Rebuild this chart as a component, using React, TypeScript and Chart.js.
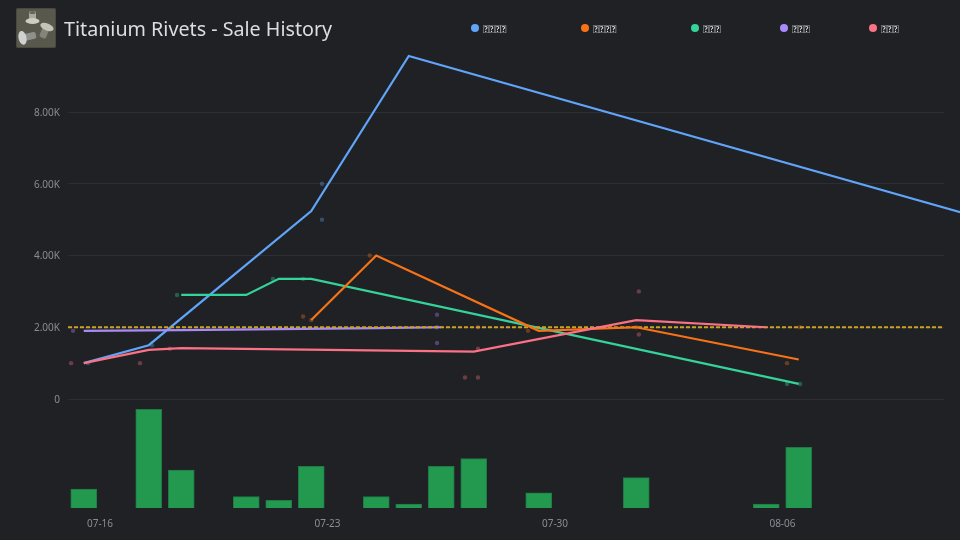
import { useEffect, useRef } from "react";
import { Chart, registerables } from "chart.js";
import type { ChartConfiguration } from "chart.js";

Chart.register(...registerables);

// days are counted from 07-16; the rolling lines sit on half days
const tickDays = [0, 7, 14, 21];
const tickLabels = ["07-16", "07-23", "07-30", "08-06"];
const yTicks = [0, 2000, 4000, 6000, 8000];

const volumeDays = [-0.5, 1.5, 2.5, 4.5, 5.5, 6.5, 8.5, 9.5, 10.5, 11.5, 13.5, 16.5, 20.5, 21.5];
const volumes = [5, 26, 10, 3, 2, 11, 3, 1, 11, 13, 4, 8, 1, 16];

const blueLineDays = [-0.5, 1.5, 6.5, 9.5, 27.5];
const blueLine = [1000, 1500, 5240, 9560, 4940];
const blueDotDays = [-0.37, 1.6, 6.83, 6.83, 26.12];
const blueDots = [1000, 1500, 6000, 5000, 5200];

const orangeLineDays = [6.5, 8.5, 13.5, 16.5, 21.5];
const orangeLine = [2200, 4000, 1900, 2000, 1100];
const orangeDotDays = [6.25, 6.5, 8.3, 13.17, 16.5, 21.14, 21.54];
const orangeDots = [2300, 2200, 4000, 1900, 2000, 1000, 2000];

const greenLineDays = [2.5, 4.5, 5.5, 6.5, 21.5];
const greenLine = [2900, 2900, 3350, 3350, 420];
const greenDotDays = [2.37, 5.32, 6.25, 21.14, 21.54];
const greenDots = [2900, 3350, 3350, 420, 420];

const purpleLineDays = [-0.5, 2.5, 5.5, 8.5, 10.5];
const purpleLine = [1900, 1920, 1950, 1975, 2000];
const purpleDotDays = [-0.83, 10.37, 10.37, 10.37];
const purpleDots = [1900, 2350, 2000, 1560];

const pinkLineDays = [-0.5, 1.5, 2.5, 11.5, 16.5, 20.5];
const pinkLine = [1000, 1370, 1420, 1320, 2200, 2000];
const pinkDotDays = [-0.89, 1.23, 2.15, 11.23, 11.63, 11.63, 11.63, 16.58, 16.58];
const pinkDots = [1000, 1000, 1400, 600, 600, 1400, 2000, 3000, 1800];

const referenceDays = [-0.985, 25.97];
const referenceLine = [2000, 2000];

// the legend names show as missing-glyph boxes in the picture, so no font should have these
const missing = "\u{10FFFD}";
const legendNames = [missing.repeat(4), missing.repeat(4), missing.repeat(3), missing.repeat(3), missing.repeat(3)];
const legendColors = ["#60a5fa", "#f97316", "#34d399", "#a78bfa", "#fb7185"];
const legendLeft = [471, 581, 691, 780, 869];

const points = (xs: number[], ys: number[]) => xs.map((x, i) => ({ x, y: ys[i] }));

const lineSet = (xs: number[], ys: number[], color: string, order: number) => ({
  type: "line" as const,
  data: points(xs, ys),
  borderColor: color,
  borderWidth: 2.2,
  pointRadius: 0,
  tension: 0,
  yAxisID: "y",
  clip: false as const,
  order,
});

const dotSet = (xs: number[], ys: number[], color: string) => ({
  type: "scatter" as const,
  data: points(xs, ys),
  backgroundColor: color + "58",
  borderWidth: 0,
  pointRadius: 2.2,
  yAxisID: "y",
  clip: false as const,
  order: 8,
});

export default function App() {
  const canvasRef = useRef<HTMLCanvasElement>(null);

  useEffect(() => {
    if (!canvasRef.current) return;

    const config: ChartConfiguration = {
      type: "bar",
      data: {
        datasets: [
          {
            type: "bar",
            data: points(volumeDays, volumes),
            backgroundColor: "#22994f",
            borderColor: "#1f7a47",
            borderWidth: 1,
            barThickness: 26,
            yAxisID: "volume",
            order: 9,
          },
          dotSet(blueDotDays, blueDots, legendColors[0]),
          dotSet(orangeDotDays, orangeDots, legendColors[1]),
          dotSet(greenDotDays, greenDots, legendColors[2]),
          dotSet(purpleDotDays, purpleDots, legendColors[3]),
          dotSet(pinkDotDays, pinkDots, legendColors[4]),
          {
            type: "line",
            data: points(referenceDays, referenceLine),
            borderColor: "#c9a227",
            borderWidth: 2.2,
            borderDash: [4, 2],
            pointRadius: 0,
            yAxisID: "y",
            order: 3,
          },
          lineSet(blueLineDays, blueLine, legendColors[0], 7),
          lineSet(orangeLineDays, orangeLine, legendColors[1], 2),
          lineSet(greenLineDays, greenLine, legendColors[2], 5),
          lineSet(purpleLineDays, purpleLine, legendColors[3], 4),
          lineSet(pinkLineDays, pinkLine, legendColors[4], 1),
        ],
      } as any,
      options: {
        animation: false,
        responsive: false,
        layout: { padding: { top: 40, right: 16, left: 0, bottom: 0 } },
        plugins: { legend: { display: false }, tooltip: { enabled: false } },
        scales: {
          x: {
            type: "linear",
            min: -0.985,
            max: 25.97,
            offset: false,
            grid: { display: false },
            border: { display: false },
            afterBuildTicks: (axis) => {
              axis.ticks = tickDays.map((value) => ({ value }));
            },
            afterFit: (axis) => {
              axis.height = 32;
            },
            ticks: {
              color: "#8b8c92",
              font: { family: "Noto Sans", size: 10 },
              maxRotation: 0,
              padding: 2,
              autoSkip: false,
              callback: (v) => tickLabels[tickDays.indexOf(Number(v))],
            },
          },
          y: {
            type: "linear",
            min: -3038,
            max: 10007,
            position: "left",
            border: { display: false },
            grid: { color: "#2d2e32", lineWidth: 1, drawTicks: false },
            afterBuildTicks: (axis) => {
              axis.ticks = yTicks.map((value) => ({ value }));
            },
            afterFit: (axis) => {
              axis.width = 68;
            },
            ticks: {
              color: "#8b8c92",
              font: { family: "Noto Sans", size: 10 },
              padding: 8,
              labelOffset: 1,
              callback: (v) => (Number(v) === 0 ? "0" : (Number(v) / 1000).toFixed(2) + "K"),
            },
          },
          volume: {
            type: "linear",
            display: false,
            min: 0,
            max: 123.2,
          },
        },
      },
    };

    const chart = new Chart(canvasRef.current, config);
    return () => chart.destroy();
  }, []);

  return (
    <div style={{ position: "fixed", left: 0, top: 0, width: 960, height: 540, background: "#202125", overflow: "hidden", fontFamily: "Noto Sans" }}>
      <canvas ref={canvasRef} width={960} height={540} style={{ display: "block" }} />
      <svg width={40} height={40} viewBox="0 0 40 40" style={{ position: "absolute", left: 16, top: 8 }}>
        <rect width={40} height={40} rx={2} fill="#59584d" stroke="#3a3a34" />
        <rect x={13} y={3} width={7} height={11} rx={2} fill="#a9a89a" />
        <ellipse cx={16.5} cy={13} rx={7} ry={3} fill="#cfcdc0" />
        <ellipse cx={16.5} cy={4.5} rx={3} ry={1.6} fill="#66655a" />
        <rect x={7} y={25} width={13} height={7} rx={2} fill="#8f8f8b" transform="rotate(-12 13 28)" />
        <ellipse cx={6.5} cy={30} rx={4} ry={7} fill="#d0d1d2" transform="rotate(-12 6 30)" />
        <rect x={25} y={19} width={7} height={11} rx={2} fill="#85847a" transform="rotate(22 28 24)" />
        <ellipse cx={31} cy={19} rx={7} ry={3.5} fill="#c4c3b6" transform="rotate(22 31 19)" />
      </svg>
      <div style={{ position: "absolute", left: 64, top: 15, fontSize: 19.7, lineHeight: "28px", color: "#dcdde0", whiteSpace: "nowrap" }}>
        Titanium Rivets - Sale History
      </div>
      {legendNames.map((name, i) => (
        <div key={i} style={{ position: "absolute", left: legendLeft[i], top: 20, height: 16, display: "flex", alignItems: "center", color: "#e5e7eb", fontSize: 11, whiteSpace: "nowrap", fontFamily: "Lato" }}>
          <span style={{ width: 8, height: 8, borderRadius: 4, background: legendColors[i], marginRight: 4 }} />
          {name}
        </div>
      ))}
    </div>
  );
}
